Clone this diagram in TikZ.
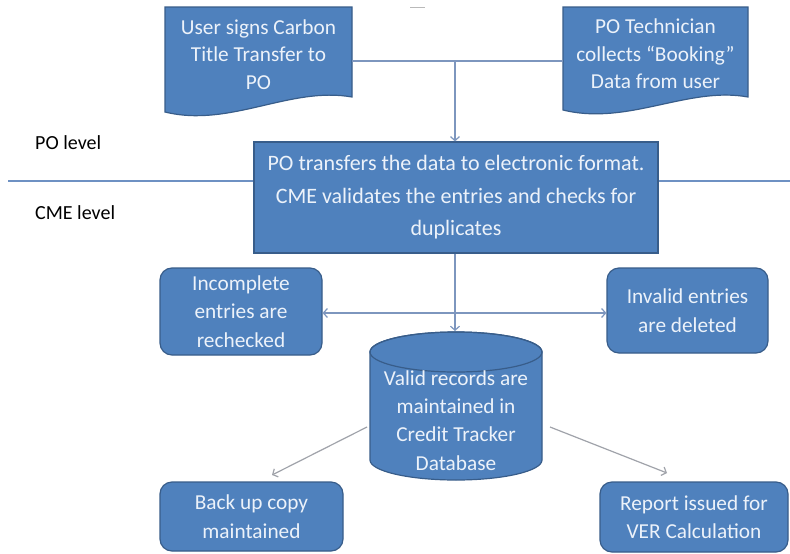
\documentclass[tikz,border=0pt]{standalone}
\usepackage{fontspec}
\setmainfont{Carlito}
\usetikzlibrary{arrows.meta,calc}
\definecolor{boxblue}{RGB}{79,129,189}
\definecolor{boxedge}{RGB}{56,93,138}
\definecolor{connc}{RGB}{125,150,190}
\definecolor{dividerc}{RGB}{110,145,195}
\definecolor{grayarr}{RGB}{160,163,170}
\definecolor{boxtext}{RGB}{236,242,250}
\begin{document}
\begin{tikzpicture}[x=1pt,y=1pt,
  shapefill/.style={fill=boxblue,draw=boxedge,line width=1.2pt},
  txt/.style={text=boxtext,font=\fontsize{21.3}{27.5}\selectfont,align=center,inner sep=0pt},
  roundbox/.style={shapefill,rounded corners=12pt,text=boxtext,align=center,inner sep=0pt,
     font=\fontsize{21.3}{28.5}\selectfont},
  mainbox/.style={shapefill,text=boxtext,align=center,inner sep=0pt,
     font=\fontsize{22}{32.5}\selectfont},
  lvl/.style={font=\fontsize{20}{24}\selectfont,text=black,inner sep=0pt},
  connline/.style={draw=connc,line width=1.2pt},
  conn/.style={draw=connc,line width=1.2pt,-{Straight Barb[length=4pt,width=9pt]}},
  grayconn/.style={draw=grayarr,line width=1.2pt,-{Straight Barb[length=4pt,width=9pt]}},
]
\useasboundingbox (0,0) rectangle (790,-554);
\fill[white] (0,0) rectangle (790,-554);

% small mark at top
\draw[gray!55,line width=1pt] (410,-7) -- (425,-7);

% divider line
\draw[dividerc,line width=1.2pt] (8,-181) -- (790,-181);
\node[lvl,anchor=west] (po) at (35,-143) {PO level};
\node[lvl,anchor=west] (cme) at (35,-213) {CME level};

% document shapes
\path[shapefill] (165,-7) -- (352,-7) -- (352,-97)
   .. controls (290,-86) and (230,-128) .. (165,-112) -- cycle;
\node[txt] (doc1) at (258.5,-54.5) {User signs Carbon\\Title Transfer to\\PO};
\path[shapefill] (563,-7) -- (748,-7) -- (748,-97)
   .. controls (688,-86) and (628,-126) .. (563,-110) -- cycle;
\node[txt] (doc2) at (655.5,-54) {PO Technician\\collects “Booking”\\Data from user};
\coordinate (doc1r) at (352,-61);
\coordinate (doc2l) at (563,-61);
\coordinate (j) at (455,-61);

% main box
\node[mainbox,minimum width=404pt,minimum height=111pt] (main) at (456,-197.5)
  {PO transfers the data to electronic format.\\CME validates the entries and checks for\\duplicates};

% side boxes
\node[roundbox,minimum width=162pt,minimum height=87pt] (inc) at (241,-311.5)
  {Incomplete\\entries are\\rechecked};
\node[roundbox,minimum width=161pt,minimum height=85pt] (inv) at (687.5,-310.5)
  {Invalid entries\\are deleted};

% cylinder
\path[shapefill] (370,-352) -- (370,-460)
   arc[start angle=180,end angle=360,x radius=86,y radius=20]
   -- (542,-352)
   arc[start angle=0,end angle=180,x radius=86,y radius=20] -- cycle;
\draw[boxedge,line width=1.2pt] (456,-352) ellipse[x radius=86,y radius=20];
\node[txt,font=\fontsize{21.3}{28.3}\selectfont] (cyl) at (456,-420.5)
  {Valid records are\\maintained in\\Credit Tracker\\Database};
\coordinate (cyltop) at (455,-331);
\coordinate (cylleft) at (367,-427);
\coordinate (cylright) at (550,-427);

% bottom boxes
\node[roundbox,minimum width=183pt,minimum height=69pt] (bak) at (251.5,-516.5)
  {Back up copy\\maintained};
\node[roundbox,minimum width=188pt,minimum height=70pt] (rep) at (694,-517)
  {Report issued for\\VER Calculation};
\coordinate (bakin) at (272,-475);
\coordinate (repin) at (667,-473);

% connectors
\draw[connline] (doc1r) -- (doc2l);
\draw[conn] (j) -- (j |- main.north);
\draw[conn] (j |- main.south) -- (cyltop);
\coordinate (h) at (455,-313);
\draw[conn] (h) -- (h -| inc.east);
\draw[conn] (h) -- (h -| inv.west);
\draw[grayconn] (cylleft) -- (bakin);
\draw[grayconn] (cylright) -- (repin);
\end{tikzpicture}
\end{document}
